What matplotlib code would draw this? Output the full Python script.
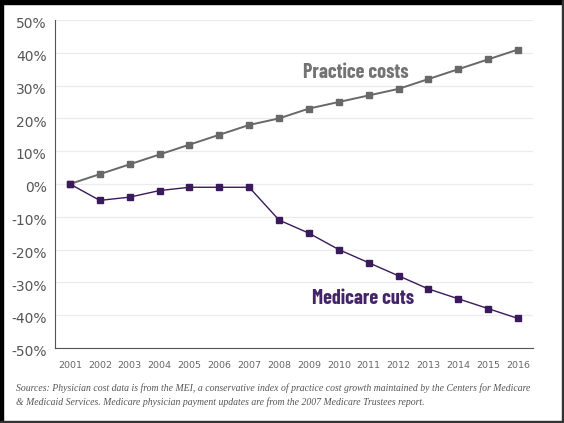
import os
import matplotlib
matplotlib.use('Agg')
import matplotlib.pyplot as plt
from matplotlib.patches import Rectangle
import matplotlib.transforms as mtrans
from matplotlib import font_manager

years = list(range(2001, 2017))
practice_costs = [0, 3, 6, 9, 12, 15, 18, 20, 23, 25, 27, 29, 32, 35, 38, 41]
medicare_cuts = [0, -5, -4, -2, -1, -1, -1, -11, -15, -20, -24, -28, -32, -35, -38, -41]
y_ticks = [50, 40, 30, 20, 10, 0, -10, -20, -30, -40, -50]
y_labels = ['%d%%' % v for v in y_ticks]
source_note = ('Sources: Physician cost data is from the MEI, a conservative index of practice cost growth '
               'maintained by the Centers for Medicare\n'
               '& Medicaid Services. Medicare physician payment updates are from the 2007 Medicare Trustees report.')

gray = '#686868'
purple = '#3b1a5c'

# condensed bold face for the two series labels, first one found wins
wanted = ['BarlowCondensed-Bold.ttf', 'BarlowCondensed-SemiBold.ttf',
          'AsapCondensed-Bold.ttf', 'DejaVuSansCondensed-Bold.ttf']
found = {os.path.basename(f): f for f in font_manager.findSystemFonts()}
label_font = font_manager.FontProperties(family='DejaVu Sans', weight='bold', size=11)
for w in wanted:
    if w in found:
        size = 14.5 if w.startswith('Barlow') else 11.5
        label_font = font_manager.FontProperties(fname=found[w], size=size)
        break

fig = plt.figure(figsize=(5.64, 4.23), dpi=100)
ax = fig.add_axes([55 / 564, 1 - 348 / 423, 478 / 564, 328 / 423])

ax.plot(years, practice_costs, color=gray, lw=1.4, marker='s', ms=4.3, mec=gray, mfc=gray)
ax.plot(years, medicare_cuts, color=purple, lw=1.0, marker='s', ms=4.3, mec=purple, mfc=purple)

ax.set_xlim(2000.5, 2016.5)
ax.set_ylim(-50, 50)
ax.set_yticks(y_ticks)
ax.set_yticklabels(y_labels)
ax.set_xticks(years)
ax.set_xticklabels([str(y) for y in years])
ax.grid(axis='y', color='#ececec', lw=0.9)
ax.set_axisbelow(True)

for s in ['top', 'right']:
    ax.spines[s].set_visible(False)
ax.spines['left'].set_color('#555555')
ax.spines['bottom'].set_color('#555555')

ax.tick_params(axis='y', length=0, pad=6, labelsize=10, labelcolor='#555555')
ax.tick_params(axis='x', length=0, pad=9, labelsize=6.8, labelcolor='#666666')
# tick labels sit a little low in the original
offset = mtrans.ScaledTranslation(0, -2 / 72, fig.dpi_scale_trans)
for lab in ax.get_yticklabels():
    lab.set_transform(lab.get_transform() + offset)

ax.text(2010.57, 33.9, 'Practice costs', fontproperties=label_font,
        color='#737373', ha='center', va='center')
ax.text(2010.8, -34.8, 'Medicare cuts', fontproperties=label_font,
        color='#45236a', ha='center', va='center')

fig.text(16 / 564, 1 - 395 / 423, source_note, family='Liberation Serif', style='italic',
         fontsize=7.05, color='#555555', ha='left', va='center', linespacing=1.6)

# border of the picture
fig.patches.append(Rectangle((0, 1 - 4 / 423), 1, 4 / 423, transform=fig.transFigure,
                             color='black', zorder=10))
fig.patches.append(Rectangle((0, 0), 3 / 564, 1, transform=fig.transFigure,
                             color='black', zorder=10))
fig.patches.append(Rectangle((1 - 2 / 564, 0), 2 / 564, 1, transform=fig.transFigure,
                             color='#333333', zorder=10))
fig.patches.append(Rectangle((0, 0), 1, 2 / 423, transform=fig.transFigure,
                             color='#333333', zorder=10))

fig.savefig('out.png', dpi=100)
